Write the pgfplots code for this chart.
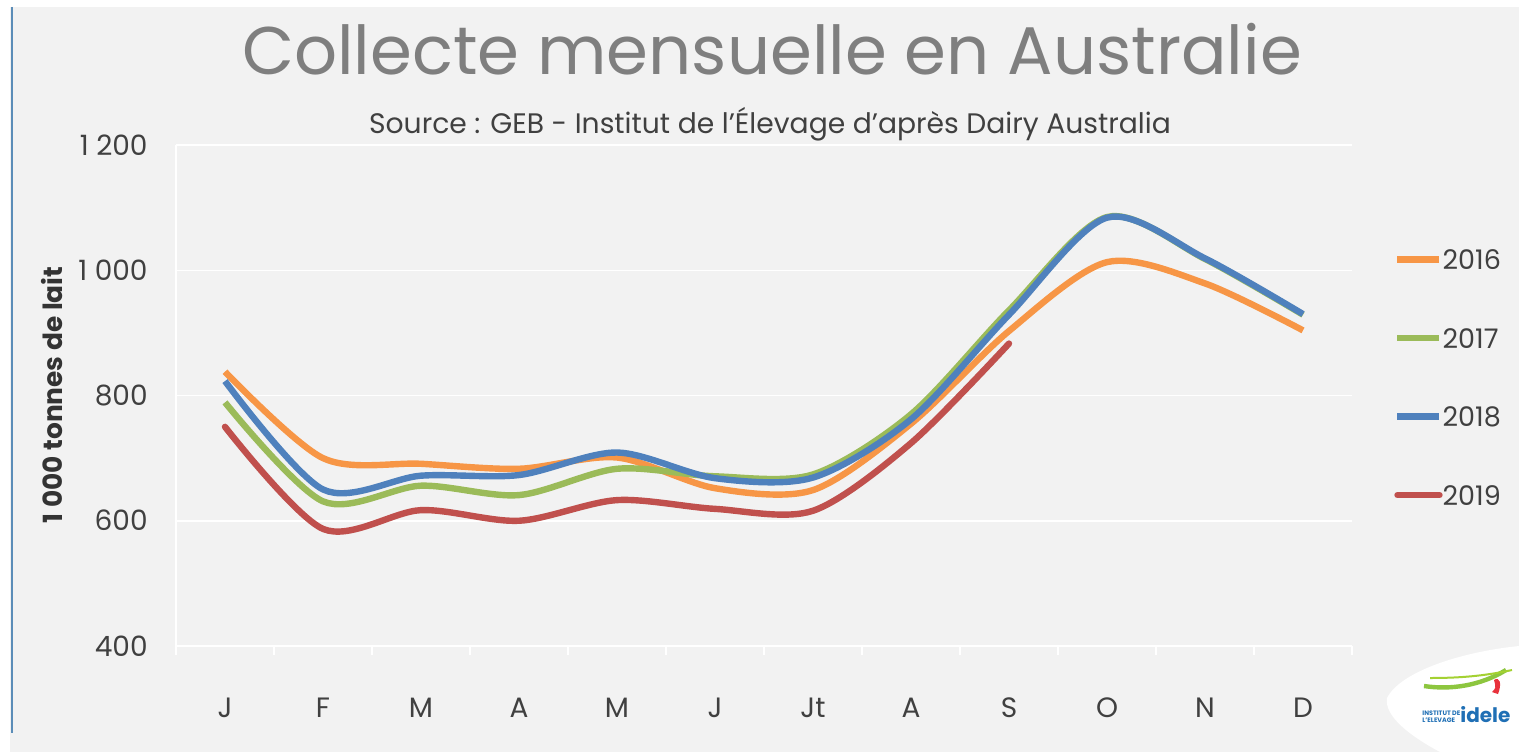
\documentclass[border=0pt]{standalone}
\usepackage{fontspec}
\setmainfont{Poppins}
\usepackage{pgfplots}
\usepackage{pgfplotstable}
\pgfplotsset{compat=1.18}
\definecolor{bg}{HTML}{F2F2F2}
\definecolor{c16}{HTML}{F79646}
\definecolor{c17}{HTML}{9BBB59}
\definecolor{c18}{HTML}{4F81BD}
\definecolor{c19}{HTML}{C0504D}
\definecolor{titlegray}{HTML}{7F7F7F}
\definecolor{txt}{HTML}{404040}
\definecolor{edgeblue}{HTML}{5B8DB8}
\definecolor{logoblue}{HTML}{1F6FB5}
\definecolor{logogreen}{HTML}{8DC63F}
\definecolor{logored}{HTML}{E8323C}

\pgfplotstableread{
x y
0 838
1 700
2 691
3 683
4 701
5 652
6 649
7 755
8 903
9 1013
10 979
11 904
}\dataA
\pgfplotstableread{
x y
0 789
1 631
2 656
3 641
4 683
5 671
6 674
7 770
8 936
9 1085
10 1018
11 929
}\dataB
\pgfplotstableread{
x y
0 823
1 650
2 672
3 673
4 709
5 668
6 669
7 762
8 929
9 1084
10 1019
11 930
}\dataC
\pgfplotstableread{
x y
0 750
1 587
2 617
3 600
4 633
5 619
6 616
7 724
8 883
}\dataD

\begin{document}
\begin{tikzpicture}
\useasboundingbox (0pt,0pt) rectangle (759.5pt,376pt);
\fill[white] (0pt,0pt) rectangle (759.5pt,376pt);
\fill[bg] (5pt,0pt) rectangle (759.5pt,372.5pt);
\draw[edgeblue, line width=0.6pt] (6pt,372.5pt) -- (6pt,9.5pt);
% logo background
\fill[white] (693.5pt,27pt) .. controls (700pt,40pt) and (730pt,50pt) .. (759.5pt,53pt) -- (759.5pt,0pt) -- (720pt,0pt) .. controls (705pt,8pt) and (692pt,18pt) .. (693.5pt,27pt);
\node[text=titlegray, font=\fontsize{33.7}{36}\selectfont, anchor=center] at (386pt,351.5pt) {Collecte mensuelle en Australie};
\node[text=txt, font=\fontsize{14.1}{16}\selectfont, anchor=center] at (385pt,314pt) {Source : GEB - Institut de l'Élevage d'après Dairy Australia};
\node[text=txt!80!black, font=\bfseries\fontsize{13.2}{15}\selectfont, rotate=90, anchor=center] at (26pt,178.5pt) {1 000 tonnes de lait};
\begin{axis}[
  at={(88pt,53pt)}, anchor=south west,
  scale only axis, width=588pt, height=250.5pt,
  xmin=-0.5, xmax=11.5, ymin=400, ymax=1200,
  axis background/.style={fill=bg},
  axis x line*=bottom, axis y line*=left,
  axis line style={white, line width=0.75pt, -},
  xtick={0,...,11},
  xticklabels={J,F,M,A,M,J,Jt,A,S,O,N,D},
  ytick={400,600,800,1000,1200},
  yticklabels={400,600,800,1 000,1 200},
  major tick length=0pt,
  ymajorgrids, grid style={white, line width=0.75pt},
  extra x ticks={-0.5,0.5,...,11.5},
  extra x tick labels={},
  extra x tick style={grid=none, major tick length=4.5pt, tick align=outside, major tick style={white, line width=0.75pt}},
  tick label style={font=\fontsize{14}{16}\selectfont, text=txt, inner sep=0pt, text height=10pt, text depth=0pt},
  xticklabel style={anchor=center, yshift=-30.5pt},
  yticklabel style={anchor=east, xshift=-14pt},
  clip=false,
  legend cell align=left,
  legend image code/.code={\draw[#1, line width=3.2pt] (0pt,0pt) -- (21pt,0pt);},
  legend style={at={(1.0305,0.800)}, anchor=north west, draw=none, fill=none,
    font=\fontsize{13.5}{16}\selectfont, text=txt, row sep=29.25pt,
    nodes={inner sep=0pt, text height=10pt, text depth=0pt},
    /tikz/every even column/.append style={column sep=1pt}},
  every axis plot/.append style={line width=3.2pt, smooth, tension=0.5},
]
\addplot[c16] table {\dataA};
\addlegendentry{2016}
\addplot[c17] table {\dataB};
\addlegendentry{2017}
\addplot[c18] table {\dataC};
\addlegendentry{2018}
\addplot[c19, line cap=round] table {\dataD};
\addlegendentry{2019}
\end{axis}
% logo
\draw[logogreen, line width=2.2pt] (712pt,33pt) .. controls (725pt,31pt) and (740pt,33pt) .. (753pt,41pt);
\draw[logogreen!80!yellow, line width=1pt] (715pt,37pt) .. controls (730pt,37pt) and (742pt,38pt) .. (756pt,41pt);
\fill[logored] (747pt,36pt) .. controls (750pt,38pt) and (751pt,34pt) .. (749pt,29pt) -- (746pt,30pt) .. controls (748pt,32pt) .. cycle;
\node[text=logoblue, font=\bfseries\fontsize{3.2}{3.6}\selectfont, align=left, anchor=west, inner sep=0pt] at (711pt,17.5pt) {INSTITUT DE\\L'ELEVAGE};
\node[text=logoblue, font=\bfseries\fontsize{10}{10}\selectfont, anchor=west, inner sep=0pt] at (730pt,18.5pt) {idele};
\end{tikzpicture}
\end{document}
